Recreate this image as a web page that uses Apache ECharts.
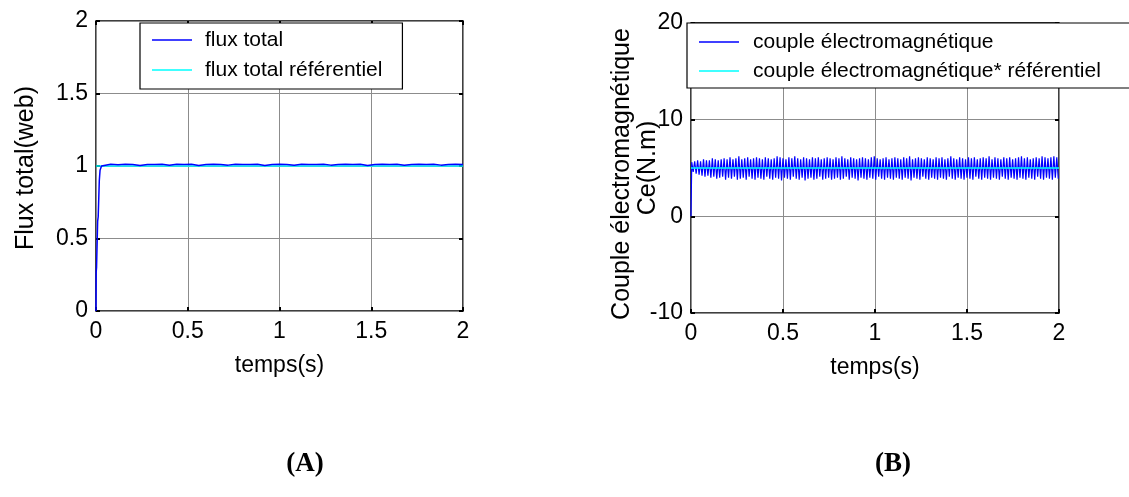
<!DOCTYPE html>
<html>
<head>
<meta charset="utf-8">
<script src="https://cdn.jsdelivr.net/npm/echarts@6/dist/echarts.min.js"></script>
<style>
html,body{margin:0;padding:0;background:#fff;}
#c{width:1129px;height:497px;}
</style>
</head>
<body>
<div id="c"></div>
<script>
// ---------- data ----------
const xTicks = [0, 0.5, 1, 1.5, 2];
const fluxTicks = [0, 0.5, 1, 1.5, 2];
const torqueTicks = [-10, 0, 10, 20];

// (A) flux total: start-up transient then steady state
const fluxTime = [0, 0.001, 0.003, 0.009, 0.012, 0.018, 0.022, 0.03,
  0.04, 0.08, 0.12, 0.16, 0.2, 0.24, 0.28, 0.32, 0.36, 0.4,
  0.44, 0.48, 0.52, 0.56, 0.6, 0.64, 0.68, 0.72, 0.76, 0.8,
  0.84, 0.88, 0.92, 0.96, 1.0, 1.04, 1.08, 1.12, 1.16, 1.2,
  1.24, 1.28, 1.32, 1.36, 1.4, 1.44, 1.48, 1.52, 1.56, 1.6,
  1.64, 1.68, 1.72, 1.76, 1.8, 1.84, 1.88, 1.92, 1.96, 2.0];
const fluxValue = [0, 0.27, 0.3, 0.62, 0.65, 0.9, 0.97, 1.0,
  1.01, 1.012, 1.008, 1.012, 1.01, 1.003, 1.011, 1.01, 1.012, 1.005,
  1.012, 1.01, 1.012, 1.004, 1.011, 1.012, 1.01, 1.006, 1.012, 1.011,
  1.01, 1.012, 1.004, 1.011, 1.012, 1.01, 1.005, 1.012, 1.011, 1.01,
  1.012, 1.006, 1.011, 1.012, 1.01, 1.012, 1.004, 1.011, 1.012, 1.01,
  1.012, 1.005, 1.011, 1.012, 1.01, 1.012, 1.006, 1.011, 1.012, 1.01];
const fluxRefTime = [0, 2];
const fluxRefValue = [1, 1];

// (B) couple électromagnétique: ripple peaks and troughs (one per switching cycle)
const torqueStep = 0.008;
const torqueInitial = 0;
const torqueHigh = [
  5.6,5.7,5.8,5.7,5.9,5.8,5.8,6.0,5.9,5.8,
  5.9,6.0,5.9,6.1,5.9,6.0,6.2,5.9,6.0,6.1,
  5.9,6.0,6.1,6.0,5.9,6.1,6.0,5.9,6.0,6.2,
  6.1,6.0,5.9,6.1,6.0,6.2,6.0,5.9,6.1,6.0,
  5.9,6.1,6.0,6.1,5.9,6.0,6.1,6.0,5.9,6.1,
  6.0,6.2,6.0,5.9,6.1,6.0,5.9,6.0,6.1,6.0,
  5.9,6.1,6.2,6.0,5.9,6.0,6.1,5.9,6.0,6.1,
  6.0,5.9,6.1,6.0,6.2,5.9,6.0,6.1,6.0,5.9,
  6.1,6.0,5.9,6.1,6.0,6.1,5.9,6.0,6.2,6.0,
  5.9,6.1,6.0,5.9,6.1,6.0,6.1,5.9,6.0,6.1,
  6.0,6.2,5.9,6.1,6.0,5.9,6.1,6.0,6.1,5.9,
  6.0,6.1,6.2,6.0,6.1,5.9,6.0,6.1,6.0,6.2,
  6.1,6.0,6.1,6.2,6.1];
const torqueLow = [
  4.6,4.4,4.3,4.2,4.1,4.2,4.0,4.1,3.9,4.0,
  4.1,3.8,4.0,3.9,4.1,3.8,3.9,4.0,3.8,4.1,
  3.9,3.8,4.0,3.9,3.8,4.1,3.9,3.8,4.0,3.9,
  3.7,4.0,3.9,3.8,4.1,3.9,3.8,4.0,3.7,3.9,
  4.0,3.8,3.9,4.1,3.8,3.9,4.0,3.8,3.9,4.0,
  3.8,3.9,4.1,3.8,4.0,3.9,3.7,4.0,3.9,3.8,
  4.0,3.9,3.8,4.1,3.9,3.8,4.0,3.9,3.8,4.0,
  3.9,3.8,4.0,3.9,3.7,4.0,3.9,3.8,4.1,3.9,
  3.8,4.0,3.9,3.8,4.0,3.9,3.8,4.1,3.9,3.8,
  4.0,3.9,3.8,4.0,3.9,3.8,4.1,3.9,3.8,4.0,
  3.9,3.8,4.0,3.9,3.8,4.1,3.9,3.8,4.0,3.9,
  3.8,4.0,3.9,3.8,4.0,3.9,3.8,4.1,3.9,3.8,
  4.0,3.9,3.8,4.0,3.9];
const torqueRefTime = [0, 2];
const torqueRefValue = [5, 5];

// ---------- build series data ----------
const pair = (ts, vs) => ts.map((t, i) => [t, vs[i]]);
const fluxData = pair(fluxTime, fluxValue);
const fluxRefData = pair(fluxRefTime, fluxRefValue);
const torqueData = [[0, torqueInitial]];
torqueHigh.forEach((v, i) => {
  torqueData.push([(2 * i + 0.5) * torqueStep, v]);
  torqueData.push([(2 * i + 1.5) * torqueStep, torqueLow[i]]);
});
const torqueRefData = pair(torqueRefTime, torqueRefValue);

// ---------- styling ----------
const FONT = '"Liberation Sans", Arial, sans-serif';
const gridLine = { show: true, lineStyle: { color: '#8c8c8c', width: 1 } };
const tickIn = { show: true, inside: true, length: 4, lineStyle: { color: '#000', width: 2 } };

function mainX(gi) {
  return {
    type: 'value', gridIndex: gi, min: xTicks[0], max: xTicks[xTicks.length - 1], interval: 0.5,
    position: 'bottom',
    axisLine: { show: false, onZero: false }, axisTick: tickIn, splitLine: gridLine,
    axisLabel: { color: '#000', fontSize: 23, fontFamily: FONT, margin: 9 },
    name: 'temps(s)', nameLocation: 'middle', nameGap: 43,
    nameTextStyle: { color: '#000', fontSize: 23, fontFamily: FONT }
  };
}
function topX(gi) {
  return {
    type: 'value', gridIndex: gi, min: 0, max: 2, interval: 0.5, position: 'top',
    axisLine: { show: false, onZero: false }, axisTick: tickIn, splitLine: { show: false },
    axisLabel: { show: false }
  };
}
function mainY(gi, ticks) {
  return {
    type: 'value', gridIndex: gi, min: ticks[0], max: ticks[ticks.length - 1],
    interval: ticks[1] - ticks[0], position: 'left',
    axisLine: { show: false, onZero: false }, axisTick: tickIn, splitLine: gridLine,
    axisLabel: { color: '#000', fontSize: 23, fontFamily: FONT, margin: 8 }
  };
}
function rightY(gi, ticks) {
  return {
    type: 'value', gridIndex: gi, min: ticks[0], max: ticks[ticks.length - 1],
    interval: ticks[1] - ticks[0], position: 'right',
    axisLine: { show: false, onZero: false }, axisTick: tickIn, splitLine: { show: false },
    axisLabel: { show: false }
  };
}
function legendBox(names, left, pad, gap, textPad) {
  return {
    data: names, orient: 'vertical', left: left, top: 23,
    backgroundColor: '#fff', borderColor: '#000', borderWidth: 1.2,
    padding: pad, itemGap: gap, itemWidth: 40, itemHeight: 1.5, icon: 'rect',
    selectedMode: false, z: 20,
    textStyle: { color: '#000', fontSize: 21, fontFamily: FONT, lineHeight: 24, padding: [0, 0, 0, textPad] }
  };
}

const chart = echarts.init(document.getElementById('c'), null, { renderer: 'canvas' });
chart.setOption({
  animation: false,
  backgroundColor: '#fff',
  grid: [
    { left: 96, top: 21, width: 367, height: 290, show: true, backgroundColor: '#fff', borderColor: '#000', borderWidth: 1.5 },
    { left: 691, top: 23, width: 368, height: 290, show: true, backgroundColor: '#fff', borderColor: '#000', borderWidth: 1.5 }
  ],
  xAxis: [mainX(0), topX(0), mainX(1), topX(1)],
  yAxis: [mainY(0, fluxTicks), rightY(0, fluxTicks), mainY(1, torqueTicks), rightY(1, torqueTicks)],
  legend: [
    legendBox(['flux total', 'flux total référentiel'], 140, [5, 20, 7, 12], 6, 8),
    legendBox(['couple électromagnétique', 'couple électromagnétique* référentiel'], 687, [7, 40, 5, 12], 5, 9)
  ],
  series: [
    { name: 'flux total', type: 'line', xAxisIndex: 0, yAxisIndex: 0, data: fluxData,
      symbol: 'none', color: '#0000ff', lineStyle: { width: 1.5, color: '#0000ff' }, z: 3 },
    { name: 'flux total référentiel', type: 'line', xAxisIndex: 0, yAxisIndex: 0, data: fluxRefData,
      symbol: 'none', color: '#00ffff', lineStyle: { width: 1.5, color: '#00ffff' }, z: 2 },
    { name: 'couple électromagnétique', type: 'line', xAxisIndex: 2, yAxisIndex: 2, data: torqueData,
      symbol: 'none', color: '#0000ff', lineStyle: { width: 1.2, color: '#0000ff' }, z: 3 },
    { name: 'couple électromagnétique* référentiel', type: 'line', xAxisIndex: 2, yAxisIndex: 2, data: torqueRefData,
      symbol: 'none', color: '#00ffff', lineStyle: { width: 1.5, color: '#00ffff' }, z: 4 }
  ],
  graphic: [
    { type: 'text', x: 26, y: 168, rotation: Math.PI / 2,
      style: { text: 'Flux total(web)', font: '25px ' + FONT, fill: '#000', align: 'center', verticalAlign: 'middle' } },
    { type: 'text', x: 622, y: 174, rotation: Math.PI / 2,
      style: { text: 'Couple électromagnétique', font: '25px ' + FONT, fill: '#000', align: 'center', verticalAlign: 'middle' } },
    { type: 'text', x: 648, y: 168, rotation: Math.PI / 2,
      style: { text: 'Ce(N.m)', font: '25px ' + FONT, fill: '#000', align: 'center', verticalAlign: 'middle' } },
    { type: 'text', x: 305, y: 464,
      style: { text: '(A)', font: 'bold 27px "Liberation Serif", "Times New Roman", serif', fill: '#000', align: 'center', verticalAlign: 'middle' } },
    { type: 'text', x: 893, y: 464,
      style: { text: '(B)', font: 'bold 27px "Liberation Serif", "Times New Roman", serif', fill: '#000', align: 'center', verticalAlign: 'middle' } }
  ]
});
</script>
</body>
</html>
